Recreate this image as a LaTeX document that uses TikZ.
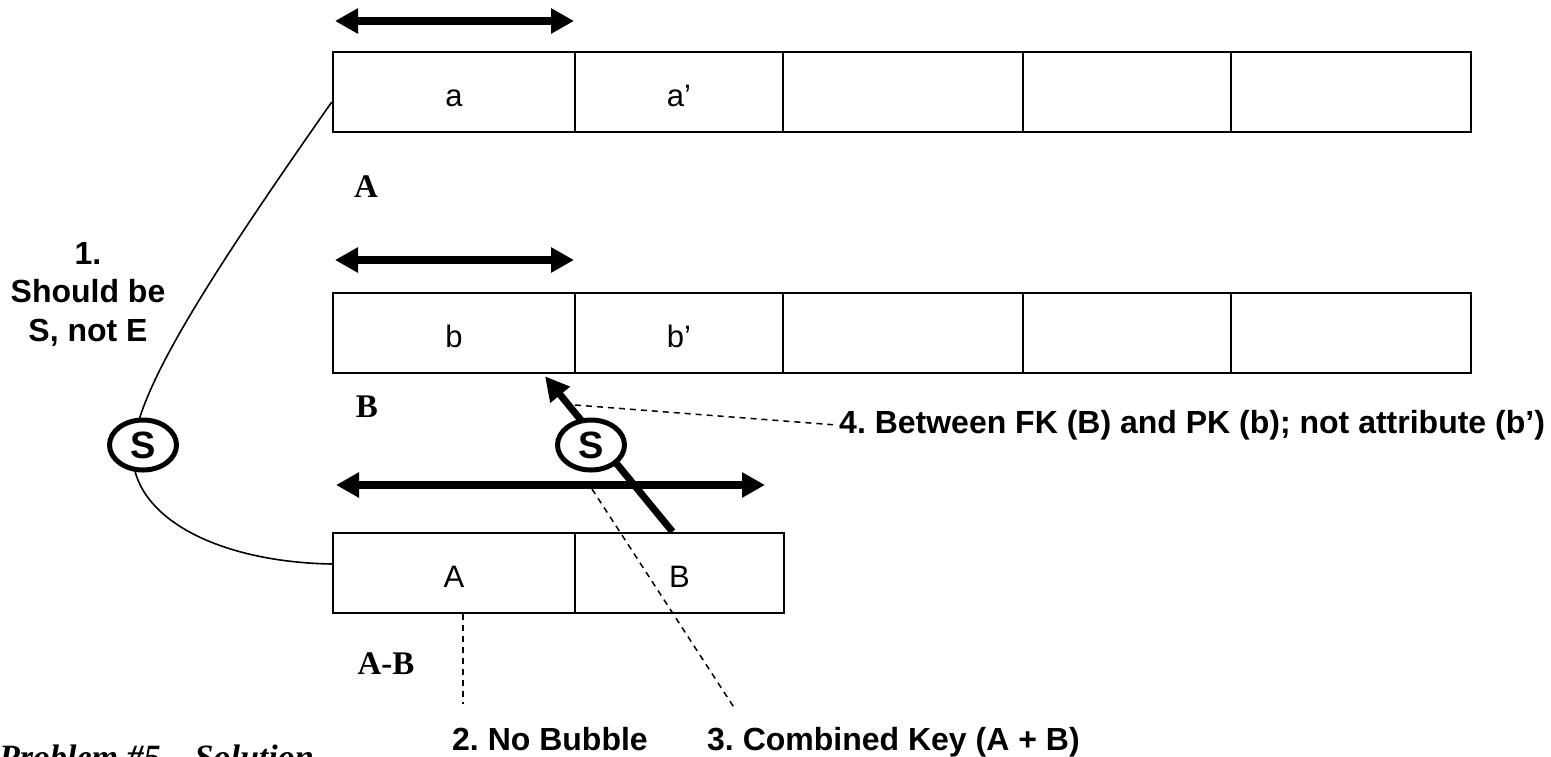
\documentclass[tikz,border=0pt]{standalone}
\usepackage{fontspec}
\setmainfont{Liberation Serif}
\newfontfamily\arialf{Liberation Sans}
\usetikzlibrary{arrows.meta,shapes.geometric}
\frenchspacing
\begin{document}
\begin{tikzpicture}[x=1pt,y=-1pt,
  cell/.style={draw,line width=2.5pt,minimum height=80pt,inner sep=0pt,text height=28pt,text depth=0pt,font=\arialf\fontsize{31}{36}\selectfont},
  tbl/.style={font=\bfseries\fontsize{33}{40}\selectfont,inner sep=0pt},
  note/.style={font=\arialf\bfseries\fontsize{32}{38.5}\selectfont,inner sep=0pt},
  dbl/.style={line width=8pt,{Triangle[length=23pt,width=24pt]}-{Triangle[length=23pt,width=24pt]}},
  relarrow/.style={line width=7pt,-{Triangle[length=24pt,width=24pt]}},
  bubble/.style={ellipse,draw,line width=5pt,fill=white,minimum width=67pt,minimum height=50pt,inner sep=0pt,font=\arialf\bfseries\fontsize{38}{40}\selectfont},
  thinline/.style={line width=1.6pt},
  dashline/.style={line width=1.5pt,dash pattern=on 6pt off 5pt}
]
\useasboundingbox (0,0) rectangle (1551,756);
\clip (0,0) rectangle (1551,756);

% table A
\node[cell,minimum width=242pt] (a1) at (454,92) {a};
\node[cell,minimum width=208pt] (a2) at (679,92) {a’};
\node[cell,minimum width=240pt] (a3) at (903,92) {};
\node[cell,minimum width=208pt] (a4) at (1127,92) {};
\node[cell,minimum width=240pt] (a5) at (1351,92) {};
% table B
\node[cell,minimum width=242pt] (b1) at (454,333) {b};
\node[cell,minimum width=208pt] (b2) at (679,333) {b’};
\node[cell,minimum width=240pt] (b3) at (903,333) {};
\node[cell,minimum width=208pt] (b4) at (1127,333) {};
\node[cell,minimum width=240pt] (b5) at (1351,333) {};
% table A-B
\node[cell,minimum width=242pt] (ab1) at (454,573) {A};
\node[cell,minimum width=209pt] (ab2) at (679.5,573) {B};

% table names
\node[tbl] (la) at (366,187) {A};
\node[tbl] (lb) at (367,407) {B};
\node[tbl] (lab) at (386,664) {A-B};

% key arrows
\coordinate (h1l) at (335,21);  \coordinate (h1r) at (574,21);
\coordinate (h2l) at (335,260); \coordinate (h2r) at (574,260);
\coordinate (h3l) at (336,485); \coordinate (h3r) at (765,485);
\draw[dbl] (h1l) -- (h1r);
\draw[dbl] (h2l) -- (h2r);
\draw[dbl] (h3l) -- (h3r);

% relationship A -- A-B
\coordinate (k1) at (133,445);
\draw[thinline] ([yshift=-10pt]a1.west) .. controls (200,290) and (142,385) .. (k1)
  .. controls (126,515) and (215,562) .. ([yshift=9pt]ab1.west);

% relationship A-B -- B
\draw[relarrow] ([xshift=-7pt]ab2.north) -- ([xshift=91pt,yshift=-2pt]b1.south);

% notes
\node[note,align=center] (n1) at (88,294) {1.\\Should be\\S, not E};
\node[note,anchor=base west] (t2) at (452,750) {2. No Bubble};
\node[note,anchor=base west] (t3) at (707,750) {3. Combined Key (A + B)};
\node[note,anchor=base west] (t4) at (839,433) {4. Between FK (B) and PK (b); not attribute (b’)};

\coordinate (d4s) at (575,405);
\draw[dashline] (d4s) -- ([xshift=-6pt]t4.west);
\coordinate (d3s) at (592,489); \coordinate (d3e) at (735,709);
\draw[dashline] (d3s) -- (d3e);
\draw[dashline] ([xshift=9pt]ab1.south) -- ++(0,90);

% bubbles
\node[bubble] (s1) at (143,445) {S};
\node[bubble] (s2) at (591,445) {S};

% caption (cut at the bottom edge, as in the reference)
\node[font=\bfseries\itshape\fontsize{34}{40}\selectfont,anchor=base west,inner sep=0pt] (title) at (-1,768) {Problem \#5 – Solution};
\end{tikzpicture}
\end{document}
